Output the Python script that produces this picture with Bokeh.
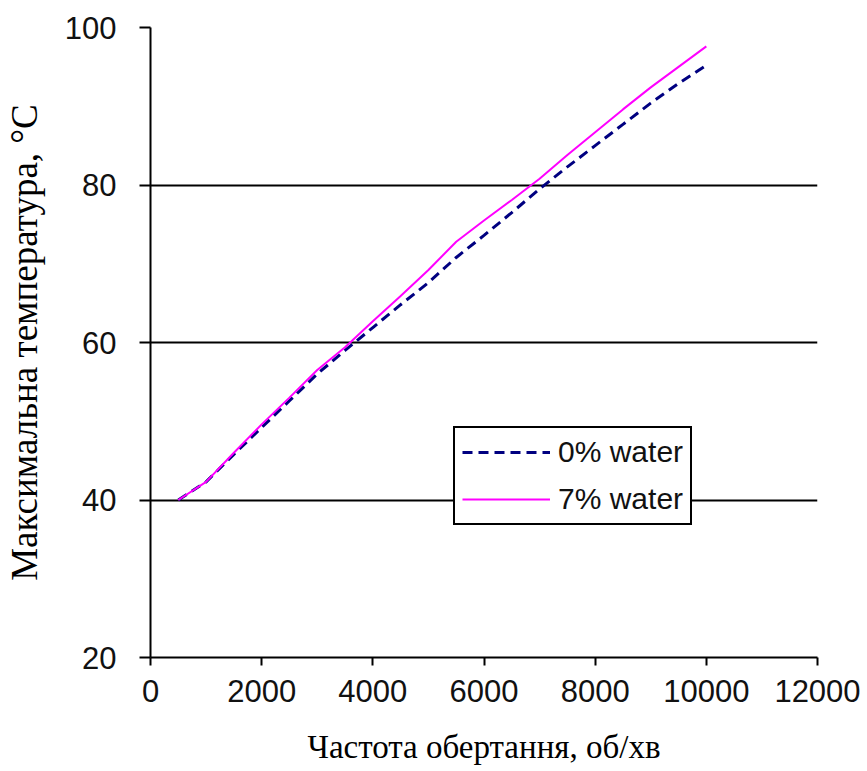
from bokeh.plotting import figure
from bokeh.models import Range1d, Legend, LegendItem, FixedTicker
from bokeh.embed import file_html
from bokeh.resources import INLINE

# Rotation speed, rpm
speed = [500, 1000, 1500, 2000, 2500, 3000, 3500, 4000, 4500, 5000,
         5500, 6000, 6500, 7000, 7500, 8000, 8500, 9000, 9500, 10000]

# Maximum temperature, °C
temp_0 = [40.0, 42.3, 45.8, 49.2, 52.6, 56.0, 59.0, 61.9, 64.8, 67.6,
          70.8, 73.6, 76.5, 79.5, 82.3, 85.0, 87.7, 90.4, 92.9, 95.2]
temp_7 = [40.0, 42.3, 46.0, 49.6, 53.0, 56.5, 59.4, 62.7, 65.9, 69.2,
          72.8, 75.5, 78.1, 80.8, 83.8, 86.7, 89.6, 92.4, 95.0, 97.6]

x_ticks = [0, 2000, 4000, 6000, 8000, 10000, 12000]
y_ticks = [20, 40, 60, 80, 100]
grid_ticks = [40, 60, 80, 100]

label_0 = "0% water"
label_7 = "7% water"
x_title = "Частота обертання, об/хв"
y_title = "Максимальна температура, °C"

SANS = "Liberation Sans"
SERIF = "Liberation Serif"

p = figure(
    width=867, height=771,
    output_backend="svg", toolbar_location=None,
    x_range=Range1d(0, 12000), y_range=Range1d(20, 100),
    min_border_left=150, min_border_right=50,
    min_border_top=27, min_border_bottom=114,
)
p.outline_line_color = None
p.background_fill_color = "white"
p.border_fill_color = "white"

# grid: horizontal black rules only
p.xgrid.visible = False
p.ygrid.ticker = FixedTicker(ticks=grid_ticks)
p.ygrid.grid_line_color = "black"
p.ygrid.grid_line_width = 2

for ax in (p.xaxis[0], p.yaxis[0]):
    ax.axis_line_color = "black"
    ax.axis_line_width = 2
    ax.major_tick_line_color = "black"
    ax.major_tick_line_width = 2
    ax.major_tick_in = 0
    ax.minor_tick_line_color = None
    ax.major_label_text_font = SANS
    ax.major_label_text_font_size = "31px"
    ax.major_label_text_color = "#111111"
    ax.axis_label_text_font = SERIF
    ax.axis_label_text_font_style = "normal"
    ax.axis_label_text_color = "black"

p.xaxis.ticker = FixedTicker(ticks=x_ticks)
p.yaxis.ticker = FixedTicker(ticks=y_ticks)
p.xaxis.major_tick_out = 8
p.yaxis.major_tick_out = 11
p.xaxis.major_label_standoff = 14
p.yaxis.major_label_standoff = 23
p.xaxis.axis_label = x_title
p.yaxis.axis_label = y_title
p.xaxis.axis_label_text_font_size = "33px"
p.yaxis.axis_label_text_font_size = "37px"
p.xaxis.axis_label_standoff = 24
p.yaxis.axis_label_standoff = 17

r0 = p.line(speed, temp_0, line_color="#000080", line_width=3, line_dash="10 6")
r7 = p.line(speed, temp_7, line_color="#FF00FF", line_width=2)

legend = Legend(
    items=[LegendItem(label=label_0, renderers=[r0]),
           LegendItem(label=label_7, renderers=[r7])],
    location=(303, 132),
    border_line_color="black", border_line_width=2, border_line_alpha=1.0,
    background_fill_color="white", background_fill_alpha=1.0,
    label_text_font=SANS, label_text_font_size="30px",
    label_text_color="#111111",
    glyph_width=88, glyph_height=30, label_height=30,
    label_standoff=8, spacing=13, padding=7, margin=0,
)
p.add_layout(legend)

open("out.html", "w").write(file_html(p, INLINE))
